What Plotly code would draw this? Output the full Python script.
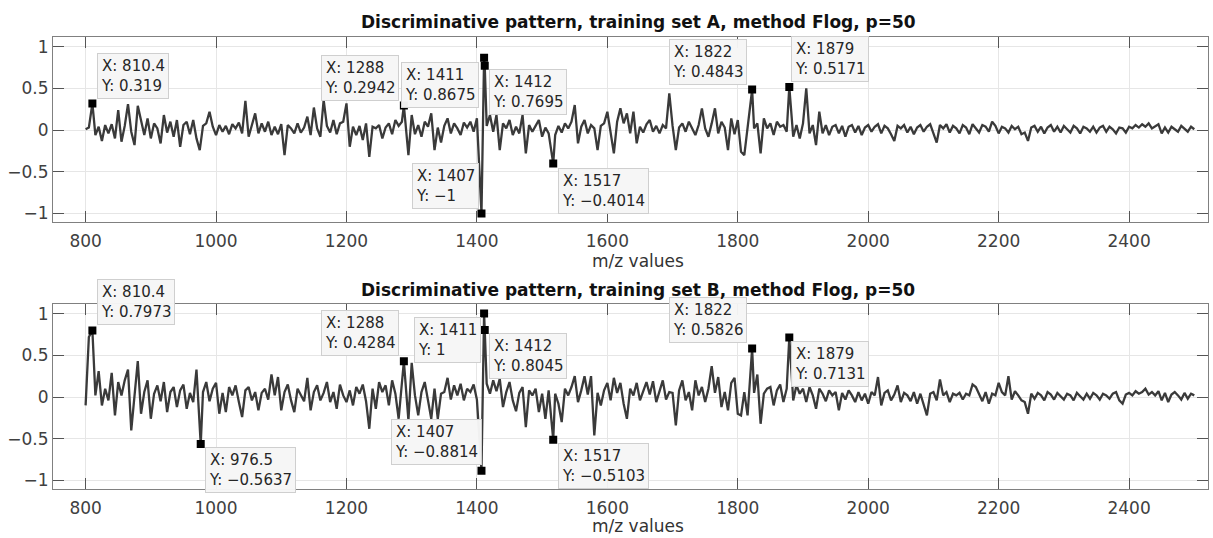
import plotly.graph_objects as go

# ---------------- data ----------------
# sampling grid of the m/z axis (step 5) and values
mz_grid = list(range(800, 2505, 5))

signal_A = [
    0.01, 0.03, 0.05, -0.06, 0.04, -0.13, 0.06, -0.04, 0.07, -0.10,      # 800
    0.24, -0.14, 0.05, 0.31, -0.02, -0.18, 0.29, 0.10, -0.06, 0.14,      # 850
    -0.10, 0.08, 0.02, -0.16, 0.18, -0.03, 0.10, -0.08, 0.12, -0.20,     # 900
    0.06, 0.10, -0.05, 0.12, -0.10, -0.24, 0.05, 0.08, 0.22, 0.04,       # 950
    -0.06, 0.06, -0.02, 0.05, -0.05, 0.07, 0.02, 0.09, -0.04, 0.35,      # 1000
    -0.08, 0.06, 0.20, -0.04, 0.08, -0.02, 0.10, -0.06, 0.04, -0.05,     # 1050
    0.07, -0.30, 0.06, 0.02, -0.04, 0.08, -0.03, 0.03, 0.16, -0.06,      # 1100
    0.27, 0.02, -0.08, 0.36, 0.05, -0.03, 0.12, -0.05, 0.08, 0.10,       # 1150
    0.32, -0.20, 0.04, -0.06, 0.05, -0.12, 0.08, -0.32, 0.04, 0.02,      # 1200
    0.06, -0.10, 0.03, 0.08, -0.05, 0.12, 0.05, 0.10, 0.20, -0.30,       # 1250
    0.18, -0.05, 0.06, -0.08, 0.10, 0.04, 0.20, -0.24, 0.03, -0.15,      # 1300
    0.05, 0.14, -0.04, 0.08, 0.02, -0.06, 0.09, 0.03, 0.10, -0.02,       # 1350
    0.14, 0.00, 0.50, 0.05, 0.18, -0.02, 0.18, -0.24, 0.08, 0.02,        # 1400
    0.12, -0.06, 0.04, -0.04, 0.18, -0.28, 0.06, -0.02, 0.05, 0.12,      # 1450
    -0.08, 0.03, -0.04, -0.30, -0.06, 0.05, -0.03, 0.08, 0.02, 0.10,     # 1500
    0.30, -0.16, 0.04, 0.12, -0.04, 0.06, 0.02, -0.24, 0.05, 0.08,       # 1550
    0.22, -0.05, -0.28, 0.10, 0.26, 0.08, 0.20, -0.04, 0.22, -0.16,      # 1600
    0.04, -0.03, 0.07, 0.12, -0.02, 0.05, -0.04, 0.06, 0.02, 0.44,       # 1650
    0.05, -0.24, 0.03, 0.08, -0.02, 0.10, 0.02, -0.06, 0.06, 0.26,       # 1700
    0.02, -0.08, 0.08, 0.26, -0.04, 0.10, 0.03, -0.24, 0.14, -0.05,      # 1750
    0.12, -0.26, -0.30, 0.05, 0.30, 0.02, 0.08, -0.28, 0.14, 0.02,       # 1800
    0.08, -0.06, 0.10, 0.04, 0.06, -0.02, 0.30, -0.08, 0.06, -0.10,      # 1850
    0.08, 0.50, -0.04, 0.06, -0.18, 0.22, -0.04, 0.06, -0.06, 0.04,      # 1900
    0.06, -0.04, 0.05, -0.08, 0.04, 0.06, -0.03, 0.05, -0.06, 0.03,      # 1950
    0.06, -0.02, 0.04, 0.07, -0.04, 0.05, 0.02, -0.05, -0.13, 0.05,      # 2000
    0.02, 0.06, -0.03, 0.04, -0.05, 0.03, 0.06, -0.02, 0.04, 0.07,       # 2050
    -0.04, -0.15, 0.06, 0.02, 0.07, -0.03, 0.05, 0.02, -0.04, 0.06,      # 2100
    0.03, -0.05, 0.07, 0.02, -0.03, 0.06, 0.04, -0.02, 0.10, 0.05,       # 2150
    -0.04, 0.04, 0.02, -0.03, 0.05, 0.01, 0.04, -0.05, -0.03, -0.13,     # 2200
    0.03, 0.05, -0.02, 0.04, -0.04, 0.03, 0.06, -0.02, 0.04, -0.03,      # 2250
    0.05, 0.01, -0.03, 0.05, 0.02, -0.04, 0.04, 0.02, -0.02, 0.04,       # 2300
    -0.03, 0.03, 0.05, -0.02, 0.04, 0.01, -0.04, 0.03, 0.02, -0.03,      # 2350
    0.04, 0.02, 0.06, 0.03, 0.07, 0.04, 0.08, 0.02, 0.05, 0.07,          # 2400
    -0.04, 0.03, -0.03, 0.04, 0.01, -0.02, 0.05, 0.02, -0.02, 0.04,      # 2450
    0.01,                                                                # 2500
]

signal_B = [
    -0.10, 0.72, 0.70, 0.02, 0.31, -0.10, 0.10, -0.04, 0.29, -0.22,      # 800
    0.18, 0.02, 0.20, 0.33, -0.40, 0.05, 0.43, -0.20, 0.06, 0.20,        # 850
    -0.26, 0.04, 0.14, -0.05, 0.18, -0.18, 0.06, 0.12, -0.12, 0.08,      # 900
    0.15, -0.14, 0.05, -0.06, 0.33, -0.50, 0.06, 0.18, -0.05, 0.10,      # 950
    0.17, -0.20, 0.05, -0.18, 0.12, 0.02, 0.14, -0.06, -0.24, 0.08,      # 1000
    0.12, -0.04, 0.06, -0.16, 0.05, 0.10, -0.03, 0.27, 0.02, 0.24,       # 1050
    -0.16, 0.06, 0.15, -0.04, -0.18, 0.10, 0.03, -0.05, 0.23, -0.16,     # 1100
    0.06, 0.14, -0.04, 0.05, 0.18, -0.06, 0.06, -0.14, 0.15, 0.02,       # 1150
    -0.06, 0.08, -0.10, 0.12, 0.04, 0.15, -0.05, -0.38, 0.10, -0.14,     # 1200
    0.18, 0.06, 0.14, -0.10, 0.20, 0.04, -0.26, 0.12, 0.40, -0.28,       # 1250
    0.41, 0.02, -0.22, 0.06, 0.18, -0.04, -0.26, 0.10, -0.26, 0.04,      # 1300
    0.06, 0.23, -0.03, 0.14, 0.02, 0.16, -0.04, 0.10, 0.06, 0.15,        # 1350
    -0.03, -0.80, 0.90, 0.16, 0.04, 0.20, 0.07, 0.22, -0.12, 0.06,       # 1400
    0.18, -0.04, -0.17, 0.05, 0.12, -0.36, 0.08, 0.02, 0.10, -0.18,      # 1450
    0.04, -0.26, 0.08, -0.45, 0.04, -0.08, -0.30, 0.10, 0.02, 0.12,      # 1500
    0.25, -0.06, 0.08, 0.25, 0.03, 0.25, -0.46, 0.05, -0.10, 0.08,       # 1550
    0.17, -0.04, 0.23, 0.05, 0.17, -0.08, -0.26, 0.10, 0.02, 0.17,       # 1600
    -0.04, 0.06, 0.18, 0.03, 0.19, -0.06, 0.08, 0.20, -0.03, 0.06,       # 1650
    0.05, -0.34, 0.08, 0.20, -0.04, 0.06, -0.16, 0.20, 0.02, 0.12,       # 1700
    -0.06, 0.10, 0.37, 0.05, 0.24, -0.12, 0.06, -0.16, 0.17, 0.23,       # 1750
    -0.20, -0.22, 0.06, -0.22, 0.50, 0.05, 0.27, -0.32, 0.04, 0.10,      # 1800
    0.12, -0.10, 0.08, 0.15, -0.06, 0.10, 0.60, -0.04, 0.14, 0.04,       # 1850
    0.10, -0.06, 0.12, 0.02, -0.14, 0.10, 0.04, -0.05, 0.08, 0.02,       # 1900
    0.06, -0.16, 0.05, -0.03, 0.08, 0.02, -0.06, 0.06, -0.04, 0.04,      # 1950
    -0.08, 0.06, 0.02, 0.24, -0.10, 0.05, 0.08, -0.04, 0.03, 0.14,       # 2000
    -0.06, 0.05, 0.02, -0.05, 0.06, -0.08, 0.04, -0.10, -0.22, 0.04,     # 2050
    0.06, -0.04, 0.21, 0.02, 0.06, -0.06, 0.04, 0.02, 0.05, -0.03,       # 2100
    0.04, 0.02, 0.15, 0.12, 0.03, -0.05, 0.06, -0.08, 0.04, 0.02,        # 2150
    0.17, 0.06, 0.02, 0.25, -0.03, 0.07, 0.02, -0.04, -0.06, -0.20,      # 2200
    0.04, -0.02, 0.05, 0.02, -0.04, 0.06, 0.03, -0.03, 0.05, 0.01,       # 2250
    -0.03, 0.04, 0.02, -0.04, 0.05, 0.01, -0.03, 0.04, -0.02, 0.05,      # 2300
    0.02, -0.03, 0.04, 0.02, -0.02, 0.04, 0.06, -0.04, -0.08, 0.03,      # 2350
    0.05, 0.02, 0.07, 0.04, 0.06, 0.10, 0.03, 0.06, 0.02, 0.07,          # 2400
    -0.04, 0.05, -0.06, 0.03, 0.06, 0.02, -0.03, 0.05, -0.02, 0.04,      # 2450
    0.02,                                                                # 2500
]

# data tips (exact values printed in the picture)
tips_A_mz = [810.4, 1288, 1407, 1411, 1412, 1517, 1822, 1879]
tips_A_val = [0.319, 0.2942, -1, 0.8675, 0.7695, -0.4014, 0.4843, 0.5171]
tips_B_mz = [810.4, 976.5, 1288, 1407, 1411, 1412, 1517, 1822, 1879]
tips_B_val = [0.7973, -0.5637, 0.4284, -0.8814, 1, 0.8045, -0.5103, 0.5826, 0.7131]

x_ticks = [800, 1000, 1200, 1400, 1600, 1800, 2000, 2200, 2400]
y_ticks = [-1, -0.5, 0, 0.5, 1]

titles = ["Discriminative pattern, training set A, method Flog, p=50",
          "Discriminative pattern, training set B, method Flog, p=50"]
x_label = "m/z values"

# ---------------- layout / style (pixels of the 1213x538 canvas) ----------------
W, H = 1213, 538
AX_LEFT, AX_RIGHT = 53, 1208
PANELS = [(36.7, 222.7), (304.7, 490.7)]        # top / bottom pixel rows of each axes
TITLE_Y = [22, 291]
XLABEL_Y = [262, 528]
CENTER_X = 638
# text-left / centre-y positions of the data-tip boxes
tip_pos_A = [(102, 76), (326, 78), (417, 187), (406, 85), (494, 92), (563, 192), (674, 62), (796, 59)]
tip_pos_B = [(102, 303), (210, 472), (326, 334.5), (396, 444), (419, 341), (494, 357), (563, 468), (674, 321), (796, 365)]

LINE_COLOR = "#3a3a3a"
FONT = "DejaVu Sans"


def merge(grid, vals, tmz, tval):
    pts = [(m, v) for m, v in zip(grid, vals) if all(abs(m - t) >= 3 for t in tmz)]
    pts += list(zip(tmz, tval))
    pts.sort()
    return [p[0] for p in pts], [p[1] for p in pts]


def fmt(v):
    return f"{v:g}".replace("-", "\u2212")


fig = go.Figure()
annotations = []
series = [(signal_A, tips_A_mz, tips_A_val, tip_pos_A), (signal_B, tips_B_mz, tips_B_val, tip_pos_B)]

for i, (sig, tmz, tval, tpos) in enumerate(series):
    xs, ys = merge(mz_grid, sig, tmz, tval)
    xa = "x" if i == 0 else "x2"
    ya = "y" if i == 0 else "y2"
    fig.add_trace(go.Scatter(x=xs, y=ys, mode="lines", xaxis=xa, yaxis=ya,
                             line=dict(color=LINE_COLOR, width=2.3), showlegend=False,
                             hoverinfo="skip"))
    fig.add_trace(go.Scatter(x=tmz, y=tval, mode="markers", xaxis=xa, yaxis=ya,
                             marker=dict(symbol="square", size=8, color="black"),
                             showlegend=False))
    for m, v, (px, py) in zip(tmz, tval, tpos):
        annotations.append(dict(
            xref="paper", yref="paper", x=(px - 5) / W, y=1 - py / H,
            xanchor="left", yanchor="middle", align="left", showarrow=False,
            text=f"X: {fmt(m)}<br>Y: {fmt(v)}",
            font=dict(family=FONT, size=15, color="#262626"),
            bgcolor="rgba(246,246,246,0.97)", bordercolor="#cfcfcf", borderwidth=1, borderpad=3))
    annotations.append(dict(xref="paper", yref="paper", x=CENTER_X / W, y=1 - TITLE_Y[i] / H,
                            xanchor="center", yanchor="middle", showarrow=False,
                            text=f"<b>{titles[i]}</b>",
                            font=dict(family=FONT, size=17, color="#111111")))
    annotations.append(dict(xref="paper", yref="paper", x=CENTER_X / W, y=1 - XLABEL_Y[i] / H,
                            xanchor="center", yanchor="middle", showarrow=False,
                            text=x_label, font=dict(family=FONT, size=17, color="#333333")))

axis_common = dict(showline=True, linecolor="#808080", linewidth=1, mirror="ticks",
                   ticks="inside", ticklen=11, tickwidth=1, tickcolor="#555555",
                   showgrid=True, gridcolor="#e6e6e6", gridwidth=1, zeroline=False,
                   tickfont=dict(family=FONT, size=17, color="#404040"))

layout = dict(width=W, height=H, autosize=False, margin=dict(l=0, r=0, t=0, b=0),
              paper_bgcolor="white", plot_bgcolor="white", annotations=annotations,
              hovermode=False)
for i, (top, bot) in enumerate(PANELS):
    sfx = "" if i == 0 else "2"
    layout["xaxis" + sfx] = dict(axis_common, domain=[AX_LEFT / W, AX_RIGHT / W], range=[750, 2521],
                                 anchor="y" + sfx, tickvals=x_ticks, ticklabelstandoff=4)
    layout["yaxis" + sfx] = dict(axis_common, domain=[1 - bot / H, 1 - top / H], range=[-1.1, 1.12],
                                 anchor="x" + sfx, tickvals=y_ticks, ticklabelstandoff=0)

fig.update_layout(**layout)
fig.write_html("out.html", config={"displayModeBar": False},
               post_script="document.body.style.margin='0';document.body.style.overflow='hidden';")
